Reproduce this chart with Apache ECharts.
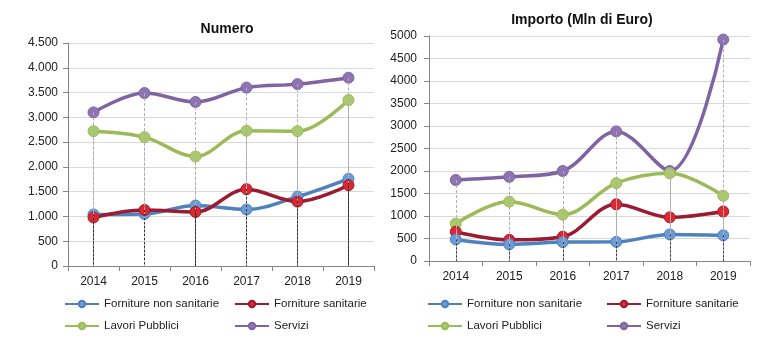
<!DOCTYPE html>
<html>
<head>
<meta charset="utf-8">
<script src="https://cdn.jsdelivr.net/npm/echarts@6/dist/echarts.min.js"></script>
<style>html,body{margin:0;padding:0;background:#fff;}#c{width:780px;height:340px;}</style>
</head>
<body>
<div id="c"></div>
<script>
const years = ['2014','2015','2016','2017','2018','2019'];
const seriesNames = ['Forniture non sanitarie','Forniture sanitarie','Lavori Pubblici','Servizi'];
// Numero
const numFornNonSan = [1040, 1050, 1220, 1140, 1400, 1760];
const numFornSan    = [980, 1130, 1090, 1550, 1300, 1630];
const numLavori     = [2720, 2600, 2210, 2730, 2720, 3350];
const numServizi    = [3100, 3490, 3310, 3600, 3670, 3800];
// Importo (Mln di Euro)
const impFornNonSan = [480, 370, 420, 425, 590, 570];
const impFornSan    = [650, 470, 540, 1260, 970, 1100];
const impLavori     = [830, 1320, 1030, 1730, 1950, 1450];
const impServizi    = [1800, 1870, 2000, 2880, 2000, 4920];
const numTicks = [0, 500, 1000, 1500, 2000, 2500, 3000, 3500, 4000, 4500];
const impTicks = [0, 500, 1000, 1500, 2000, 2500, 3000, 3500, 4000, 4500, 5000];

const lineColors = ['#4f81bd', '#9b1c31', '#9bbb59', '#8064a2'];
const markerColors = ['#6a9bd8', '#e0262f', '#a9c96a', '#8f74b3'];
const FONT = 'Liberation Sans, Arial, sans-serif';

function fmtDot(v){ return String(v).replace(/\B(?=(\d{3})+(?!\d))/g, '.'); }

function dropLines(vals, color, type){
  return {
    silent: true, symbol: 'none', animation: false,
    label: {show: false},
    lineStyle: {color: color, width: 1, type: type},
    data: vals.map((v, i) => [{coord: [i, v]}, {coord: [i, 0]}])
  };
}

function mk(name, idx, data, axisIdx, dark){
  return {
    name: name, type: 'line', xAxisIndex: axisIdx, yAxisIndex: axisIdx,
    data: data, smooth: 0.35,
    symbol: 'circle', symbolSize: 11,
    lineStyle: {color: lineColors[idx], width: 3.5},
    itemStyle: {color: markerColors[idx], borderColor: lineColors[idx], borderWidth: 1},
    markLine: dropLines(data, dark ? '#333' : '#b0b0b0', dark ? [2, 2] : [3, 2]),
    z: 3
  };
}

function axisX(gi){
  return {
    type: 'category', gridIndex: gi, data: years, boundaryGap: true,
    axisLine: {lineStyle: {color: '#868686'}},
    axisTick: {show: true, length: 5, lineStyle: {color: '#868686'}},
    axisLabel: {color: '#222', fontFamily: FONT, fontSize: 12, margin: 10},
    splitLine: {show: false}
  };
}
function axisY(gi, ticks, fmt, margin){
  return {
    type: 'value', gridIndex: gi, min: ticks[0], max: ticks[ticks.length-1], interval: 500,
    axisLine: {show: true, lineStyle: {color: '#868686'}},
    axisTick: {show: true, length: 5, lineStyle: {color: '#868686'}},
    axisLabel: {color: '#222', fontFamily: FONT, fontSize: 12, margin: margin, formatter: fmt},
    splitLine: {lineStyle: {color: '#d9d9d9'}}
  };
}

function legendItem(name, left, top){
  return {
    data: [name], left: left, top: top, padding: 0, orient: 'horizontal',
    itemWidth: 34, itemHeight: 8, selectedMode: false,
    textStyle: {fontFamily: FONT, fontSize: 11.5, color: '#222'}
  };
}

const chart = echarts.init(document.getElementById('c'), null, {renderer: 'canvas'});
chart.setOption({
  animation: false,
  backgroundColor: '#fff',
  title: [
    {text: 'Numero', left: 222, top: 17, textAlign: 'center',
     textStyle: {fontFamily: FONT, fontSize: 14, fontWeight: 'bold', color: '#111'}},
    {text: 'Importo (Mln di Euro)', left: 577, top: 8, textAlign: 'center',
     textStyle: {fontFamily: FONT, fontSize: 14, fontWeight: 'bold', color: '#111'}}
  ],
  grid: [
    {left: 68, top: 43, width: 306, height: 223},
    {left: 429, top: 36, width: 321, height: 225}
  ],
  xAxis: [axisX(0), axisX(1)],
  yAxis: [axisY(0, numTicks, v => fmtDot(v), 10), axisY(1, impTicks, v => String(v), 12)],
  legend: [
    legendItem(seriesNames[0], 64, 298),
    legendItem(seriesNames[1], 234, 298),
    legendItem(seriesNames[2], 64, 320),
    legendItem(seriesNames[3], 234, 320),
    legendItem(seriesNames[0], 427, 298),
    legendItem(seriesNames[1], 606, 298),
    legendItem(seriesNames[2], 427, 320),
    legendItem(seriesNames[3], 606, 320)
  ],
  series: [
    mk(seriesNames[3], 3, numServizi, 0, false),
    mk(seriesNames[2], 2, numLavori, 0, false),
    mk(seriesNames[0], 0, numFornNonSan, 0, true),
    mk(seriesNames[1], 1, numFornSan, 0, true),
    mk(seriesNames[3], 3, impServizi, 1, false),
    mk(seriesNames[2], 2, impLavori, 1, false),
    mk(seriesNames[1], 1, impFornSan, 1, false),
    mk(seriesNames[0], 0, impFornNonSan, 1, true)
  ]
});
</script>
</body>
</html>
